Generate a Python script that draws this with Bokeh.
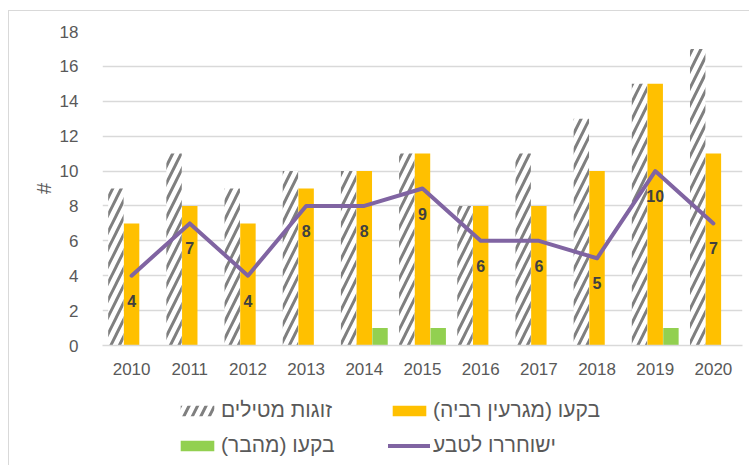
from bokeh.plotting import figure
from bokeh.layouts import column
from bokeh.models import Range1d, Legend, LegendItem, SingleIntervalTicker, ColumnDataSource
from bokeh.transform import dodge
from bokeh.core.properties import value
from bokeh.embed import file_html
from bokeh.resources import INLINE

years = ["2010", "2011", "2012", "2013", "2014", "2015", "2016", "2017", "2018", "2019", "2020"]
nesting_pairs = [9, 11, 9, 10, 10, 11, 8, 11, 13, 15, 17]
hatched_breeding = [7, 8, 7, 9, 10, 11, 8, 8, 10, 15, 11]
hatched_wild = [0, 0, 0, 0, 1, 1, 0, 0, 0, 1, 0]
released = [4, 7, 4, 8, 8, 9, 6, 6, 5, 10, 7]

name_pairs = "זוגות מטילים"
name_breeding = "בקעו (מגרעין רביה)\u200f"
name_wild = "בקעו (מהבר)\u200f"
name_released = "ישוחררו לטבע"
y_title = "#"

FONT = "Liberation Sans"
GREY = "#595959"
HATCH = dict(fill_color="white", line_color=None, hatch_pattern="/", hatch_color="#7f7f7f",
             hatch_scale=17, hatch_weight=3)
ORANGE = "#FFC000"
GREEN = "#92D050"
PURPLE = "#8064A2"

src = ColumnDataSource(dict(
    year=years, pairs=nesting_pairs, breeding=hatched_breeding, wild=hatched_wild,
    released=released, lbl=[str(v) for v in released],
))


def add_series(fig, visible=True):
    bw = 0.265
    r1 = fig.vbar(x=dodge("year", -0.27, range=fig.x_range), top="pairs", width=bw,
                  source=src, visible=visible, **HATCH)
    r2 = fig.vbar(x=dodge("year", 0.0, range=fig.x_range), top="breeding", width=bw,
                  source=src, fill_color=ORANGE, line_color=None, visible=visible)
    r3 = fig.vbar(x=dodge("year", 0.27, range=fig.x_range), top="wild", width=bw,
                  source=src, fill_color=GREEN, line_color=None, visible=visible)
    r4 = fig.line(x="year", y="released", source=src, line_color=PURPLE, line_width=4,
                  line_join="round", line_cap="round", visible=visible)
    return r1, r2, r3, r4


p = figure(x_range=years, y_range=Range1d(0, 18), width=741, height=366,
           output_backend="svg", toolbar_location=None,
           min_border_left=93, min_border_right=8, min_border_top=20, min_border_bottom=30)
p.outline_line_color = None
p.background_fill_color = "white"
p.border_fill_color = "white"

add_series(p)
p.text(x="year", y="released", text="lbl", source=src, text_align="center",
       text_baseline="middle", y_offset=25, text_font=value(FONT), text_font_style="bold",
       text_font_size="16px", text_color="#404040")

p.yaxis.ticker = SingleIntervalTicker(interval=2)
p.yaxis.axis_line_color = None
p.yaxis.major_tick_line_color = None
p.yaxis.minor_tick_line_color = None
p.yaxis.major_label_standoff = 18
p.yaxis.major_label_text_font = FONT
p.yaxis.major_label_text_font_size = "17px"
p.yaxis.major_label_text_color = GREY
p.yaxis.axis_label = y_title
p.yaxis.axis_label_text_font = FONT
p.yaxis.axis_label_text_font_size = "20px"
p.yaxis.axis_label_text_font_style = "normal"
p.yaxis.axis_label_text_color = GREY
p.yaxis.axis_label_standoff = 2

p.xaxis.axis_line_color = "#d9d9d9"
p.xaxis.axis_line_width = 1.5
p.xaxis.major_tick_line_color = None
p.xaxis.minor_tick_line_color = None
p.xaxis.major_label_standoff = 11
p.xaxis.major_label_text_font = FONT
p.xaxis.major_label_text_font_size = "17px"
p.xaxis.major_label_text_color = GREY

p.xgrid.grid_line_color = None
p.ygrid.grid_line_color = "#d9d9d9"
p.ygrid.grid_line_width = 1.5

# legend strip below the chart; it holds hidden copies of the series for the swatches
lg = figure(x_range=years, y_range=Range1d(0, 18), width=741, height=89,
            output_backend="svg", toolbar_location=None,
            x_axis_location=None, y_axis_location=None,
            min_border_left=0, min_border_right=0, min_border_top=0, min_border_bottom=0)
lg.outline_line_color = None
lg.xgrid.grid_line_color = None
lg.ygrid.grid_line_color = None
l_pairs, l_breed, l_wild, l_line = add_series(lg, visible=False)

legend = Legend(items=[
    LegendItem(label=name_pairs, renderers=[l_pairs]),
    LegendItem(label=name_breeding, renderers=[l_breed]),
    LegendItem(label=name_wild, renderers=[l_wild]),
    LegendItem(label=name_released, renderers=[l_line]),
], location=(74, 9), orientation="horizontal", ncols=2,
    glyph_width=42, glyph_height=13, label_standoff=3, label_width=156, label_height=24,
    spacing=11, padding=0, margin=0, border_line_color=None, background_fill_alpha=0,
    label_text_font=FONT, label_text_font_size="21px", label_text_color=GREY)
lg.add_layout(legend)

layout = column(p, lg, spacing=0, margin=(11, 0, 0, 9),
                styles={"box-shadow": "-1px -1px 0 0 #d9d9d9"})
open("out.html", "w").write(file_html(layout, INLINE))
